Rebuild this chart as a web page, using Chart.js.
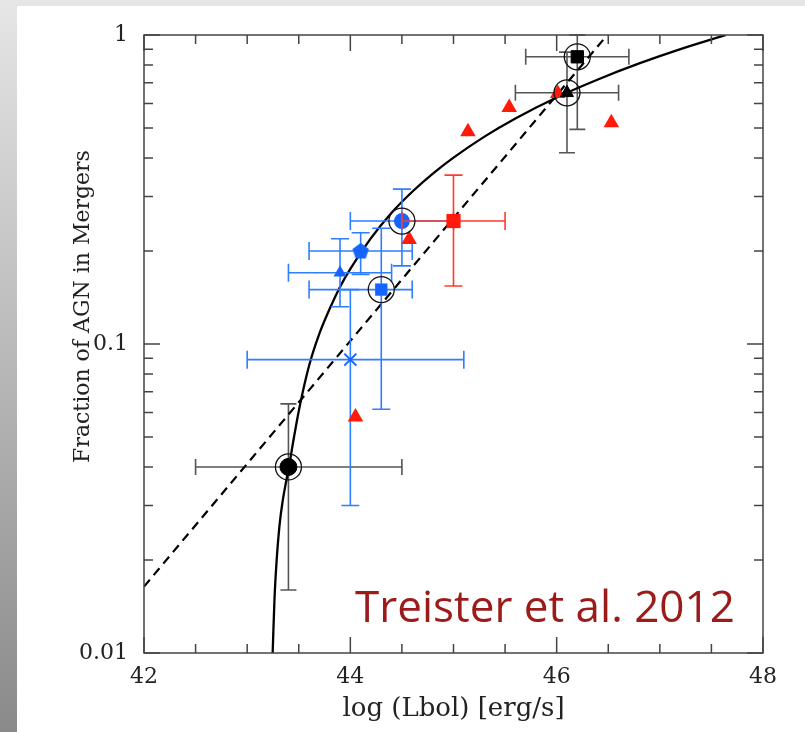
<!DOCTYPE html>
<html>
<head>
<meta charset="utf-8">
<script src="https://cdn.jsdelivr.net/npm/chart.js@4.4.1/dist/chart.umd.min.js"></script>
<style>
  html, body { margin: 0; padding: 0; }
  body { width: 805px; height: 732px; position: relative; overflow: hidden; background: #e6e6e6; }
  #strip { position: absolute; left: 0; top: 0; width: 17px; height: 732px; background: linear-gradient(#e6e6e6, #8a8a8a); }
  #panel { position: absolute; left: 17px; top: 6px; right: 0; bottom: 0; background: #ffffff; }
  #c { position: absolute; left: 0; top: 0; }
</style>
</head>
<body>
<div id="strip"></div>
<div id="panel"></div>
<canvas id="c" width="805" height="732"></canvas>
<script>
// ---------- tick labels ----------
const xTickLabels = [42, 44, 46, 48];
const xMinorTicks = [42.5, 43, 43.5, 44.5, 45, 45.5, 46.5, 47, 47.5];
const yTickValues = [0.01, 0.1, 1];
const yTickLabels = ['0.01', '0.1', '1'];
const yMinorTicks = [0.02, 0.03, 0.04, 0.05, 0.06, 0.07, 0.08, 0.09, 0.2, 0.3, 0.4, 0.5, 0.6, 0.7, 0.8, 0.9];

// ---------- solid fit curve ----------
const fitX = [43.247, 43.265, 43.286, 43.314, 43.344, 43.375, 43.405, 43.454, 43.51, 43.60, 43.70, 43.80, 43.90, 44.00, 44.20, 44.40, 44.60, 44.80, 45.00, 45.30, 45.60, 46.00, 46.40, 46.80, 47.20, 47.64];
const fitY = [0.010, 0.015, 0.020, 0.026, 0.031, 0.0355, 0.040, 0.050, 0.063, 0.085, 0.108, 0.130, 0.153, 0.175, 0.220, 0.266, 0.311, 0.356, 0.401, 0.469, 0.537, 0.628, 0.718, 0.809, 0.900, 1.0];

// ---------- dashed line ----------
const dashX = [42, 46.49];
const dashY = [0.0164, 1.0];

// ---------- red triangles (no error bars) ----------
const redTriX = [44.05, 44.57, 45.14, 45.54, 46.01, 46.53];
const redTriY = [0.058, 0.218, 0.486, 0.583, 0.647, 0.52];

// ---------- red square ----------
const redSqX = [45.0];
const redSqY = [0.25];
const redSqXLo = [44.5];
const redSqXHi = [45.5];
const redSqYLo = [0.154];
const redSqYHi = [0.352];

// ---------- blue points: circle, pentagon, triangle, square, cross ----------
const blueX = [44.5, 44.1, 43.9, 44.3, 44.0];
const blueY = [0.25, 0.2, 0.17, 0.15, 0.089];
const blueXLo = [44.0, 43.6, 43.4, 43.6, 43.0];
const blueXHi = [45.0, 44.6, 44.4, 44.6, 45.1];
const blueYLo = [0.179, 0.168, 0.132, 0.0615, 0.03];
const blueYHi = [0.317, 0.229, 0.219, 0.237, 0.15];

// ---------- black points: circle, square, triangle ----------
const blackX = [43.4, 46.2, 46.1];
const blackY = [0.04, 0.85, 0.65];
const blackXLo = [42.5, 45.7, 45.6];
const blackXHi = [44.5, 46.7, 46.6];
const blackYLo = [0.016, 0.495, 0.416];
const blackYHi = [0.064, 1.0, 0.88];

// ---------- open rings ----------
const ringX = [43.4, 46.2, 46.1, 44.5, 44.3];
const ringY = [0.04, 0.85, 0.65, 0.25, 0.15];

const pts = (xs, ys) => xs.map((v, i) => ({x: v, y: ys[i]}));

const BLUE = '#1664ff';
const BLUE_BAR = '#2f7eff';
const RED = '#ff1a0a';
const RED_BAR = '#ff3b2b';

// pentagon marker
const pent = document.createElement('canvas');
pent.width = 18; pent.height = 18;
(function () {
  const g = pent.getContext('2d');
  g.fillStyle = BLUE;
  g.beginPath();
  for (let k = 0; k < 5; k++) {
    const a = -Math.PI / 2 + k * 2 * Math.PI / 5;
    const px = 9 + 8.6 * Math.cos(a), py = 9.6 + 8.6 * Math.sin(a);
    k === 0 ? g.moveTo(px, py) : g.lineTo(px, py);
  }
  g.closePath();
  g.fill();
})();

function drawBars(chart, b) {
  const {ctx, scales: {x, y}} = chart;
  ctx.save();
  ctx.strokeStyle = b.color;
  ctx.lineWidth = 1.6;
  for (let i = 0; i < b.x.length; i++) {
    const cx = x.getPixelForValue(b.x[i]);
    const cy = y.getPixelForValue(b.y[i]);
    const x0 = x.getPixelForValue(b.xLo[i]);
    const x1 = x.getPixelForValue(b.xHi[i]);
    const y0 = y.getPixelForValue(b.yLo[i]);
    const y1 = y.getPixelForValue(b.yHi[i]);
    ctx.beginPath();
    ctx.moveTo(x0, cy); ctx.lineTo(x1, cy);
    ctx.moveTo(x0, cy - b.cap); ctx.lineTo(x0, cy + b.cap);
    ctx.moveTo(x1, cy - b.cap); ctx.lineTo(x1, cy + b.cap);
    ctx.moveTo(cx, y0); ctx.lineTo(cx, y1);
    ctx.moveTo(cx - b.cap, y0); ctx.lineTo(cx + b.cap, y0);
    ctx.moveTo(cx - b.cap, y1); ctx.lineTo(cx + b.cap, y1);
    ctx.stroke();
  }
  ctx.restore();
}

const blackBars = {x: blackX, y: blackY, xLo: blackXLo, xHi: blackXHi, yLo: blackYLo, yHi: blackYHi, color: '#555', cap: 8};

const decoPlugin = {
  id: 'deco',
  beforeDatasetsDraw(chart) {
    drawBars(chart, blackBars);
  },
  beforeDatasetDraw(chart, args) {
    const ds = chart.data.datasets[args.index];
    if (ds.errBars) drawBars(chart, ds.errBars);
  },
  afterDraw(chart) {
    const {ctx, chartArea: {left, right, top, bottom}, scales: {x, y}} = chart;
    ctx.save();
    ctx.strokeStyle = '#444';
    ctx.lineWidth = 1.5;
    ctx.strokeRect(left, top, right - left, bottom - top);
    ctx.beginPath();
    const xt = (v, len) => {
      const p = x.getPixelForValue(v);
      ctx.moveTo(p, bottom); ctx.lineTo(p, bottom - len);
      ctx.moveTo(p, top); ctx.lineTo(p, top + len);
    };
    const yt = (v, len) => {
      const p = y.getPixelForValue(v);
      ctx.moveTo(left, p); ctx.lineTo(left + len, p);
      ctx.moveTo(right, p); ctx.lineTo(right - len, p);
    };
    xTickLabels.forEach(v => xt(v, 16));
    xMinorTicks.forEach(v => xt(v, 9));
    yTickValues.forEach(v => yt(v, 16));
    yMinorTicks.forEach(v => yt(v, 9));
    ctx.stroke();

    // y axis title
    ctx.fillStyle = '#222';
    ctx.font = '22px "DejaVu Serif"';
    ctx.textAlign = 'center';
    ctx.textBaseline = 'alphabetic';
    ctx.translate(89, 306.5);
    ctx.rotate(-Math.PI / 2);
    ctx.fillText('Fraction of AGN in Mergers', 0, 0);
    ctx.restore();

    // citation
    ctx.save();
    ctx.fillStyle = '#9b1b1b';
    ctx.font = '44px "Open Sans"';
    ctx.textAlign = 'left';
    ctx.textBaseline = 'alphabetic';
    ctx.fillText('Treister et al. 2012', 355, 622);
    ctx.restore();
  }
};

const serif = {family: '"DejaVu Serif"', size: 22};

new Chart(document.getElementById('c'), {
  type: 'scatter',
  data: {
    datasets: [
      { // rings (top)
        data: pts(ringX, ringY), order: 0,
        pointStyle: 'circle', pointRadius: 13, backgroundColor: 'rgba(0,0,0,0)',
        borderColor: '#111', borderWidth: 1.3
      },
      { // black markers
        data: pts(blackX, blackY), order: 1,
        pointStyle: ['circle', 'rect', 'triangle'], pointRadius: [8.5, 8.7, 7.5],
        backgroundColor: '#000', borderColor: '#000', borderWidth: 1
      },
      { // red square
        data: pts(redSqX, redSqY), order: 2,
        pointStyle: 'rect', pointRadius: 10, backgroundColor: RED, borderColor: RED, borderWidth: 0,
        errBars: {x: redSqX, y: redSqY, xLo: redSqXLo, xHi: redSqXHi, yLo: redSqYLo, yHi: redSqYHi, color: RED_BAR, cap: 9}
      },
      { // red triangles
        data: pts(redTriX, redTriY), order: 3,
        pointStyle: 'triangle', pointRadius: 9, backgroundColor: RED, borderColor: RED, borderWidth: 0
      },
      { // blue markers
        data: pts(blueX, blueY), order: 4,
        pointStyle: ['circle', pent, 'triangle', 'rect', 'crossRot'],
        pointRadius: [8, 9, 7.5, 8.7, 8.5],
        backgroundColor: BLUE, borderColor: BLUE, borderWidth: [0, 0, 0, 0, 2],
        errBars: {x: blueX, y: blueY, xLo: blueXLo, xHi: blueXHi, yLo: blueYLo, yHi: blueYHi, color: BLUE_BAR, cap: 9}
      },
      { // solid fit
        data: pts(fitX, fitY), order: 5, showLine: true, pointRadius: 0,
        borderColor: '#000', borderWidth: 2.3, cubicInterpolationMode: 'monotone', fill: false
      },
      { // dashed line
        data: pts(dashX, dashY), order: 6, showLine: true, pointRadius: 0,
        borderColor: '#000', borderWidth: 2.2, borderDash: [9, 6], fill: false
      }
    ]
  },
  options: {
    responsive: false,
    animation: false,
    events: [],
    layout: {padding: {left: 0, top: 35, right: 42, bottom: 0}},
    plugins: {legend: {display: false}, tooltip: {enabled: false}},
    scales: {
      x: {
        type: 'linear', position: 'bottom', min: 42, max: 48,
        afterBuildTicks: s => { s.ticks = xTickLabels.map(v => ({value: v})); },
        afterFit: s => { s.height = 79; },
        grid: {display: false, drawTicks: false},
        border: {display: false},
        ticks: {font: serif, color: '#222', padding: 11, autoSkip: false, maxRotation: 0,
                callback: (v, i) => String(xTickLabels[i])},
        title: {display: true, text: 'log (Lbol) [erg/s]', color: '#222',
                font: {family: '"DejaVu Serif"', size: 26}, padding: {top: 0, bottom: 7}}
      },
      y: {
        type: 'logarithmic', position: 'left', min: 0.01, max: 1,
        afterBuildTicks: s => { s.ticks = yTickValues.map(v => ({value: v})); },
        afterFit: s => { s.width = 144; },
        grid: {display: false, drawTicks: false},
        border: {display: false},
        ticks: {font: serif, color: '#222', padding: 16, autoSkip: false,
                callback: (v, i) => yTickLabels[i]}
      }
    }
  },
  plugins: [decoPlugin]
});
</script>
</body>
</html>
